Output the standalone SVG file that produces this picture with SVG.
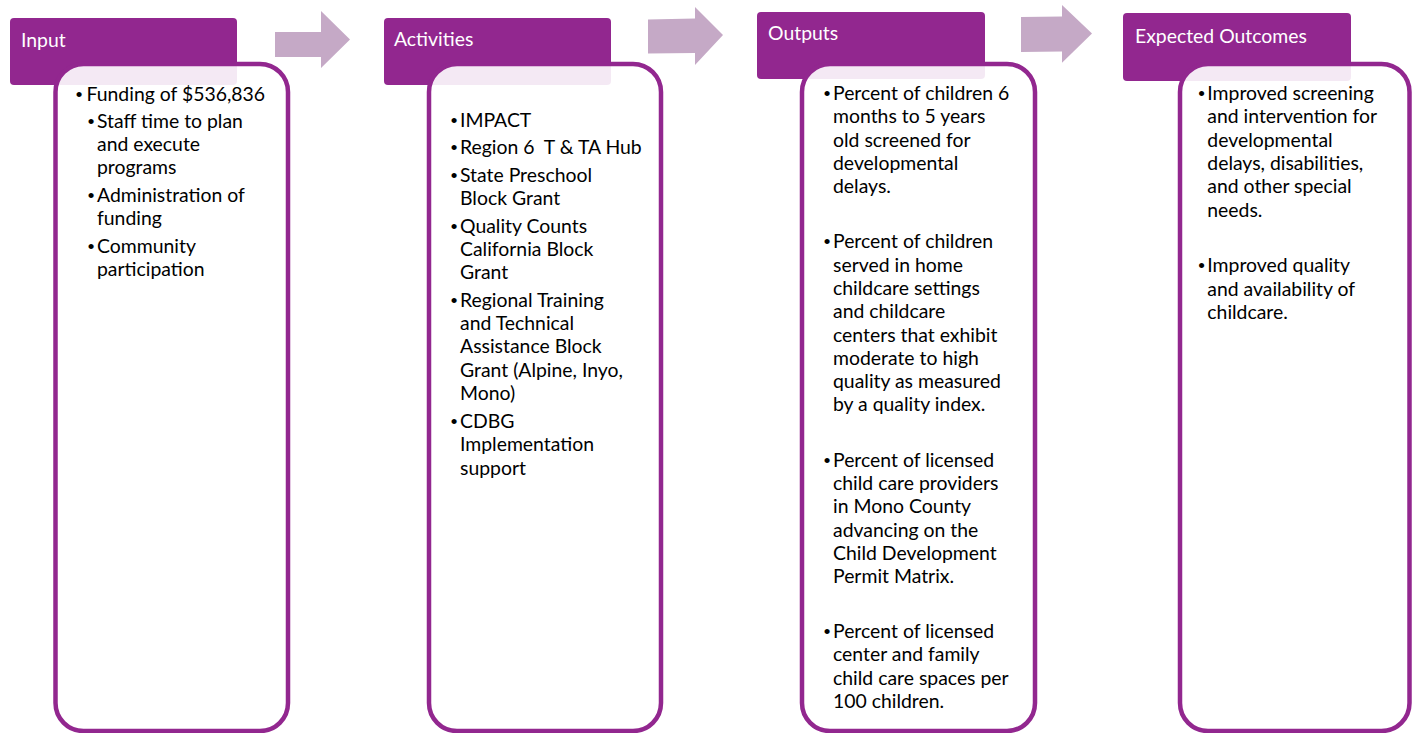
<svg xmlns="http://www.w3.org/2000/svg" width="1413" height="733" viewBox="0 0 1413 733">
<style>
.hdr{fill:#92278f}
.body{fill:#fff;fill-opacity:.9;stroke:#92278f;stroke-width:4.5}
.arrow{fill:#c5a9c6}
.ht{font-family:Lato,"Liberation Sans",sans-serif;font-size:19.4px;fill:#fff}
.bt{font-family:Lato,"Liberation Sans",sans-serif;font-size:19.4px;fill:#000;white-space:pre}
.bl{font-family:"Liberation Sans",sans-serif;font-size:19px;fill:#000;text-anchor:middle}
</style>
<rect width="1413" height="733" fill="#fff"/>
<g id="connectors">
<polygon class="arrow" points="275,32 321,32 321,11 350,39.5 321,68 321,57 275,57"/>
<polygon class="arrow" points="648,19.5 695,18.5 695,7 723,35 695,65 695,53 648,53.5"/>
<polygon class="arrow" points="1021,17 1062,16.5 1062,5 1092,33.5 1062,62.7 1062,51.5 1021,52"/>
</g>
<g id="input">
<rect class="hdr" x="10" y="18" width="227" height="67" rx="4"/>
<rect class="body" x="55.5" y="64" width="232.5" height="667" rx="28"/>
<text class="ht" x="21" y="47">Input</text>
<text class="bl" x="79" y="100.7">•</text>
<text class="bt" x="86.5" y="100.7">Funding of $536,836</text>
<text class="bl" x="91" y="127.7">•</text>
<text class="bt" x="97" y="127.7">Staff time to plan<tspan x="97" dy="23.3">and execute</tspan><tspan x="97" dy="23.3">programs</tspan></text>
<text class="bl" x="91" y="201.7">•</text>
<text class="bt" x="97" y="201.7">Administration of<tspan x="97" dy="23.3">funding</tspan></text>
<text class="bl" x="91" y="253">•</text>
<text class="bt" x="97" y="253">Community<tspan x="97" dy="23.3">participation</tspan></text>
</g>
<g id="activities">
<rect class="hdr" x="384" y="18" width="227" height="67" rx="4"/>
<rect class="body" x="429" y="64" width="232" height="667" rx="28"/>
<text class="ht" x="394" y="46">Activities</text>
<text class="bl" x="454" y="127.3">•</text>
<text class="bt" x="460" y="127.3">IMPACT</text>
<text class="bl" x="454" y="154.3">•</text>
<text class="bt" x="460" y="154.3">Region 6  T &amp; TA Hub</text>
<text class="bl" x="454" y="181.7">•</text>
<text class="bt" x="460" y="181.7">State Preschool<tspan x="460" dy="23.3">Block Grant</tspan></text>
<text class="bl" x="454" y="232.7">•</text>
<text class="bt" x="460" y="232.7">Quality Counts<tspan x="460" dy="23.3">California Block</tspan><tspan x="460" dy="23.3">Grant</tspan></text>
<text class="bl" x="454" y="306.7">•</text>
<text class="bt" x="460" y="306.7">Regional Training<tspan x="460" dy="23.3">and Technical</tspan><tspan x="460" dy="23.3">Assistance Block</tspan><tspan x="460" dy="23.3">Grant (Alpine, Inyo,</tspan><tspan x="460" dy="23.3">Mono)</tspan></text>
<text class="bl" x="454" y="428">•</text>
<text class="bt" x="460" y="428">CDBG<tspan x="460" dy="23.3">Implementation</tspan><tspan x="460" dy="23.3">support</tspan></text>
</g>
<g id="outputs">
<rect class="hdr" x="757" y="12" width="228" height="67" rx="4"/>
<rect class="body" x="802" y="64" width="233" height="667" rx="28"/>
<text class="ht" x="768" y="40">Outputs</text>
<text class="bl" x="827" y="100">•</text>
<text class="bt" x="833" y="100">Percent of children 6<tspan x="833" dy="23.3">months to 5 years</tspan><tspan x="833" dy="23.3">old screened for</tspan><tspan x="833" dy="23.3">developmental</tspan><tspan x="833" dy="23.3">delays.</tspan></text>
<text class="bl" x="827" y="248.3">•</text>
<text class="bt" x="833" y="248.3">Percent of children<tspan x="833" dy="23.3">served in home</tspan><tspan x="833" dy="23.3">childcare settings</tspan><tspan x="833" dy="23.3">and childcare</tspan><tspan x="833" dy="23.3">centers that exhibit</tspan><tspan x="833" dy="23.3">moderate to high</tspan><tspan x="833" dy="23.3">quality as measured</tspan><tspan x="833" dy="23.3">by a quality index.</tspan></text>
<text class="bl" x="827" y="466.7">•</text>
<text class="bt" x="833" y="466.7">Percent of licensed<tspan x="833" dy="23.3">child care providers</tspan><tspan x="833" dy="23.3">in Mono County</tspan><tspan x="833" dy="23.3">advancing on the</tspan><tspan x="833" dy="23.3">Child Development</tspan><tspan x="833" dy="23.3">Permit Matrix.</tspan></text>
<text class="bl" x="827" y="638">•</text>
<text class="bt" x="833" y="638">Percent of licensed<tspan x="833" dy="23.3">center and family</tspan><tspan x="833" dy="23.3">child care spaces per</tspan><tspan x="833" dy="23.3">100 children.</tspan></text>
</g>
<g id="outcomes">
<rect class="hdr" x="1123" y="13" width="228" height="68" rx="4"/>
<rect class="body" x="1180" y="64" width="229.5" height="667" rx="28"/>
<text class="ht" x="1135" y="42.7">Expected Outcomes</text>
<text class="bl" x="1201.5" y="100">•</text>
<text class="bt" x="1207.3" y="100">Improved screening<tspan x="1207.3" dy="23.3">and intervention for</tspan><tspan x="1207.3" dy="23.3">developmental</tspan><tspan x="1207.3" dy="23.3">delays, disabilities,</tspan><tspan x="1207.3" dy="23.3">and other special</tspan><tspan x="1207.3" dy="23.3">needs.</tspan></text>
<text class="bl" x="1201.5" y="272.3">•</text>
<text class="bt" x="1207.3" y="272.3">Improved quality<tspan x="1207.3" dy="23.3">and availability of</tspan><tspan x="1207.3" dy="23.3">childcare.</tspan></text>
</g>
</svg>
